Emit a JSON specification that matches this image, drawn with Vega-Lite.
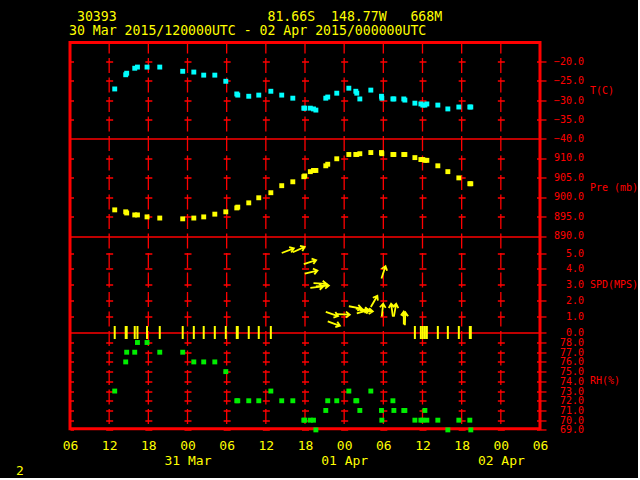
{
  "$schema": "https://vega.github.io/schema/vega-lite/v6.json",
  "background": "#000000",
  "padding": {"left": 15, "top": 9.5, "right": 0, "bottom": 0},
  "title": {
    "text": [
      "\u200b\u00a030393\u00a0\u00a0\u00a0\u00a0\u00a0\u00a0\u00a0\u00a0\u00a0\u00a0\u00a0\u00a0\u00a0\u00a0\u00a0\u00a0\u00a0\u00a0\u00a081.66S\u00a0\u00a0148.77W\u00a0\u00a0\u00a0668M",
      "30 Mar 2015/120000UTC - 02 Apr 2015/000000UTC"
    ],
    "anchor": "start",
    "frame": "group",
    "color": "#ffff00",
    "font": "DejaVu Sans Mono",
    "fontSize": 13.2,
    "fontWeight": "normal",
    "lineHeight": 14,
    "offset": 4,
    "dx": -1
  },
  "data": {
    "values": [
      {"t": "2015-03-30T12:51:00Z", "T": -27.1, "P": 896.7, "RH": 73, "spd": 0},
      {"t": "2015-03-30T14:32:00Z", "T": -23.4, "P": 896.2, "RH": 76, "spd": 0},
      {"t": "2015-03-30T14:41:00Z", "T": -23.0, "P": 895.9, "RH": 77, "spd": 0},
      {"t": "2015-03-30T15:55:00Z", "T": -21.7, "P": 895.4, "RH": 77, "spd": 0},
      {"t": "2015-03-30T16:20:00Z", "T": -21.4, "P": 895.4, "RH": 78, "spd": 0},
      {"t": "2015-03-30T17:48:00Z", "T": -21.4, "P": 894.9, "RH": 78, "spd": 0},
      {"t": "2015-03-30T19:45:00Z", "T": -21.4, "P": 894.6, "RH": 77, "spd": 0},
      {"t": "2015-03-30T23:16:00Z", "T": -22.5, "P": 894.4, "RH": 77, "spd": 0},
      {"t": "2015-03-31T00:58:00Z", "T": -22.7, "P": 894.6, "RH": 76, "spd": 0},
      {"t": "2015-03-31T02:29:00Z", "T": -23.5, "P": 894.9, "RH": 76, "spd": 0},
      {"t": "2015-03-31T04:11:00Z", "T": -23.5, "P": 895.6, "RH": 76, "spd": 0},
      {"t": "2015-03-31T05:52:00Z", "T": -25.1, "P": 896.2, "RH": 75, "spd": 0},
      {"t": "2015-03-31T07:33:00Z", "T": -28.4, "P": 897.2, "RH": 72, "spd": 0},
      {"t": "2015-03-31T07:42:00Z", "T": -28.7, "P": 897.4, "RH": 72, "spd": 0},
      {"t": "2015-03-31T09:23:00Z", "T": -29.0, "P": 898.5, "RH": 72, "spd": 0},
      {"t": "2015-03-31T10:55:00Z", "T": -28.7, "P": 899.8, "RH": 72, "spd": 0},
      {"t": "2015-03-31T12:46:00Z", "T": -27.7, "P": 901.1, "RH": 73, "spd": 0},
      {"t": "2015-03-31T14:26:00Z", "T": -28.7, "P": 902.9, "RH": 72, "spd": 5.0, "dir": 69},
      {"t": "2015-03-31T16:08:00Z", "T": -29.5, "P": 903.9, "RH": 72, "spd": 5.05, "dir": 66},
      {"t": "2015-03-31T17:49:00Z", "T": -32.1, "P": 905.2, "RH": 70, "spd": 4.3, "dir": 72},
      {"t": "2015-03-31T17:58:00Z", "T": -32.1, "P": 905.4, "RH": 70, "spd": 3.7, "dir": 76},
      {"t": "2015-03-31T18:49:00Z", "T": -32.1, "P": 906.5, "RH": 70, "spd": 2.8, "dir": 83},
      {"t": "2015-03-31T19:18:00Z", "T": -32.3, "P": 906.8, "RH": 70, "spd": 3.1, "dir": 93},
      {"t": "2015-03-31T19:40:00Z", "T": -32.6, "P": 906.8, "RH": 69, "spd": 2.9, "dir": 86},
      {"t": "2015-03-31T21:11:00Z", "T": -29.5, "P": 908.0, "RH": 71, "spd": 1.3, "dir": 109},
      {"t": "2015-03-31T21:29:00Z", "T": -29.2, "P": 908.4, "RH": 72, "spd": 0.7, "dir": 110},
      {"t": "2015-03-31T22:52:00Z", "T": -28.2, "P": 909.8, "RH": 72, "spd": 1.15, "dir": 92},
      {"t": "2015-04-01T00:43:00Z", "T": -26.9, "P": 910.9, "RH": 73, "spd": 1.65, "dir": 100},
      {"t": "2015-04-01T01:47:00Z", "T": -27.7, "P": 910.9, "RH": 72, "spd": 1.5, "dir": 98},
      {"t": "2015-04-01T01:56:00Z", "T": -28.2, "P": 910.9, "RH": 72, "spd": 1.2, "dir": 74},
      {"t": "2015-04-01T02:24:00Z", "T": -29.7, "P": 911.1, "RH": 71, "spd": 1.4, "dir": 95},
      {"t": "2015-04-01T04:05:00Z", "T": -27.4, "P": 911.4, "RH": 73, "spd": 1.6, "dir": 30},
      {"t": "2015-04-01T05:43:00Z", "T": -29.0, "P": 911.4, "RH": 71, "spd": 3.4, "dir": 18},
      {"t": "2015-04-01T05:46:00Z", "T": -29.5, "P": 911.1, "RH": 70, "spd": 1.0, "dir": 6},
      {"t": "2015-04-01T07:28:00Z", "T": -29.7, "P": 910.9, "RH": 72, "spd": 1.0, "dir": 352},
      {"t": "2015-04-01T07:37:00Z", "T": -29.7, "P": 910.9, "RH": 71, "spd": 1.0, "dir": 10},
      {"t": "2015-04-01T09:08:00Z", "T": -29.7, "P": 910.9, "RH": 71, "spd": 0.5, "dir": 0},
      {"t": "2015-04-01T09:18:00Z", "T": -30.0, "P": 910.9, "RH": 71, "spd": 0.45, "dir": 2},
      {"t": "2015-04-01T10:50:00Z", "T": -30.8, "P": 910.1, "RH": 70, "spd": 0},
      {"t": "2015-04-01T11:45:00Z", "T": -31.0, "P": 909.6, "RH": 70, "spd": 0},
      {"t": "2015-04-01T12:03:00Z", "T": -31.3, "P": 909.6, "RH": 70, "spd": 0},
      {"t": "2015-04-01T12:22:00Z", "T": -31.3, "P": 909.4, "RH": 71, "spd": 0},
      {"t": "2015-04-01T12:40:00Z", "T": -31.0, "P": 909.4, "RH": 70, "spd": 0},
      {"t": "2015-04-01T14:21:00Z", "T": -31.3, "P": 908.0, "RH": 70, "spd": 0},
      {"t": "2015-04-01T15:53:00Z", "T": -32.3, "P": 906.5, "RH": 69, "spd": 0},
      {"t": "2015-04-01T17:34:00Z", "T": -31.8, "P": 904.9, "RH": 70, "spd": 0},
      {"t": "2015-04-01T19:15:00Z", "T": -31.8, "P": 903.4, "RH": 70, "spd": 0},
      {"t": "2015-04-01T19:24:00Z", "T": -31.8, "P": 903.4, "RH": 69, "spd": 0}
    ]
  },
  "width": 470,
  "height": 386.2,
  "encoding": {
    "x": {
      "field": "t", "type": "temporal",
      "scale": {"type": "utc", "domain": [{"year": 2015, "month": 3, "date": 30, "hours": 6, "utc": true}, {"year": 2015, "month": 4, "date": 2, "hours": 6, "utc": true}]},
      "axis": {
        "orient": "bottom", "domain": false, "ticks": false, "grid": false,
        "values": [
          {"year": 2015, "month": 3, "date": 30, "hours": 6, "utc": true},
          {"year": 2015, "month": 3, "date": 30, "hours": 12, "utc": true},
          {"year": 2015, "month": 3, "date": 30, "hours": 18, "utc": true},
          {"year": 2015, "month": 3, "date": 31, "hours": 0, "utc": true},
          {"year": 2015, "month": 3, "date": 31, "hours": 6, "utc": true},
          {"year": 2015, "month": 3, "date": 31, "hours": 12, "utc": true},
          {"year": 2015, "month": 3, "date": 31, "hours": 18, "utc": true},
          {"year": 2015, "month": 4, "date": 1, "hours": 0, "utc": true},
          {"year": 2015, "month": 4, "date": 1, "hours": 6, "utc": true},
          {"year": 2015, "month": 4, "date": 1, "hours": 12, "utc": true},
          {"year": 2015, "month": 4, "date": 1, "hours": 18, "utc": true},
          {"year": 2015, "month": 4, "date": 2, "hours": 0, "utc": true},
          {"year": 2015, "month": 4, "date": 2, "hours": 6, "utc": true}
        ],
        "labelExpr": "utcFormat(datum.value, '%H') == '00' ? [utcFormat(datum.value, '%H'), utcFormat(datum.value, '%d %b')] : utcFormat(datum.value, '%H')",
        "labelColor": "#ffff00",
        "labelFont": "DejaVu Sans Mono",
        "labelFontSize": 13,
        "labelPadding": 11,
        "labelLineHeight": 15,
        "labelFlush": false,
        "labelOverlap": false,
        "labelBound": false,
        "title": "2",
        "titleColor": "#ffff00",
        "titleFont": "DejaVu Sans Mono",
        "titleFontSize": 13,
        "titleFontWeight": "normal",
        "titleAngle": 0,
        "titleAlign": "left",
        "titleBaseline": "top",
        "titleX": -54.5,
        "titleY": 36
      }
    }
  },
  "layer": [
    {
      "data": {
        "values": [
          {"t": "2015-03-30T12:00:00Z"},
          {"t": "2015-03-30T18:00:00Z"},
          {"t": "2015-03-31T00:00:00Z"},
          {"t": "2015-03-31T06:00:00Z"},
          {"t": "2015-03-31T12:00:00Z"},
          {"t": "2015-03-31T18:00:00Z"},
          {"t": "2015-04-01T00:00:00Z"},
          {"t": "2015-04-01T06:00:00Z"},
          {"t": "2015-04-01T12:00:00Z"},
          {"t": "2015-04-01T18:00:00Z"},
          {"t": "2015-04-02T00:00:00Z"}
        ]
      },
      "mark": {"type": "rule", "color": "#ff0000", "strokeWidth": 1.3, "strokeDash": [15, 4.5], "strokeDashOffset": 4},
      "encoding": {}
    },
    {
      "mark": {"type": "point", "shape": "square", "filled": true, "size": 24, "color": "#00ee00", "opacity": 1},
      "encoding": {
        "y": {
          "field": "RH", "type": "quantitative",
          "scale": {"domain": [69, 79.03], "range": [387.4, 290], "nice": false, "zero": false},
          "axis": {"orient": "right", "grid": true, "values": [69, 70, 71, 72, 73, 74, 75, 76, 77, 78], "title": "RH(%)", "titleY": 338.1,
            "gridColor": "#ff0000", "gridOpacity": 1, "gridWidth": 1.3, "gridDash": [7, 32.1667], "gridDashOffset": 3.5}
        }
      }
    },
    {
      "mark": {"type": "point", "shape": "square", "filled": true, "size": 24, "color": "#00ffff", "opacity": 1},
      "encoding": {
        "y": {
          "field": "T", "type": "quantitative",
          "scale": {"domain": [-40, -15], "range": [96, 0], "nice": false, "zero": false},
          "axis": {"orient": "right", "grid": true, "values": [-40, -35, -30, -25, -20], "title": "T(C)", "titleY": 48,
            "gridDash": {"condition": {"test": "datum.value == -40", "value": []}, "value": [7, 32.1667]}}
        }
      }
    },
    {
      "mark": {"type": "point", "shape": "square", "filled": true, "size": 24, "color": "#ffff00", "opacity": 1},
      "encoding": {
        "y": {
          "field": "P", "type": "quantitative",
          "scale": {"domain": [890, 915], "range": [193.5, 96], "nice": false, "zero": false},
          "axis": {"orient": "right", "grid": true, "values": [890, 895, 900, 905, 910], "title": "Pre (mb)", "titleY": 144.75,
            "gridDash": {"condition": {"test": "datum.value == 890", "value": []}, "value": [7, 32.1667]}}
        }
      }
    },
    {
      "transform": [{"filter": "datum.spd > 0"}],
      "mark": {"type": "point", "shape": "M0,0L0,-2M-0.45,-1.4L0,-2L0.45,-1.4", "filled": false, "size": 169, "color": "#ffff00", "strokeWidth": 1.8, "opacity": 1},
      "encoding": {
        "y": {
          "field": "spd", "type": "quantitative",
          "scale": {"domain": [0, 6.07], "range": [290, 193.5], "nice": false, "zero": false},
          "axis": {"orient": "right", "grid": true, "values": [0, 1, 2, 3, 4, 5], "title": "SPD(MPS)", "titleY": 241.75,
            "gridDash": {"condition": {"test": "datum.value == 0", "value": []}, "value": [7, 32.1667]}}
        },
        "angle": {"field": "dir", "type": "quantitative", "scale": {"domain": [0, 360], "range": [0, 360]}}
      }
    },
    {
      "transform": [{"filter": "datum.spd == 0"}],
      "mark": {"type": "tick", "orient": "vertical", "size": 13, "thickness": 2, "color": "#ffff00", "opacity": 1},
      "encoding": {
        "y": {
          "field": "spd", "type": "quantitative",
          "scale": {"domain": [0, 6.07], "range": [290, 193.5], "nice": false, "zero": false},
          "axis": null
        }
      }
    }
  ],
  "resolve": {"scale": {"y": "independent"}, "axis": {"y": "independent"}},
  "config": {
    "view": {"stroke": "#ff0000", "strokeWidth": 3},
    "axisY": {
      "domain": false,
      "grid": true,
      "gridColor": "#ff0000",
      "gridWidth": 1.3,
      "gridDash": [7, 32.1667],
      "gridDashOffset": 3.5,
      "ticks": true,
      "tickColor": "#ff0000",
      "tickSize": 6,
      "tickWidth": 1.3,
      "labelColor": "#ff0000",
      "labelFont": "DejaVu Sans Mono",
      "labelFontSize": 10,
      "labelAlign": "right",
      "labelBaseline": "middle",
      "labelPadding": 37.5,
      "labelOverlap": false,
      "labelBound": false,
      "labelFlush": false,
      "format": ".1f",
      "titleColor": "#ff0000",
      "titleFont": "DejaVu Sans Mono",
      "titleFontSize": 10,
      "titleFontWeight": "normal",
      "titleAngle": 0,
      "titleAlign": "left",
      "titleBaseline": "middle",
      "titleX": 49.5
    }
  }
}
